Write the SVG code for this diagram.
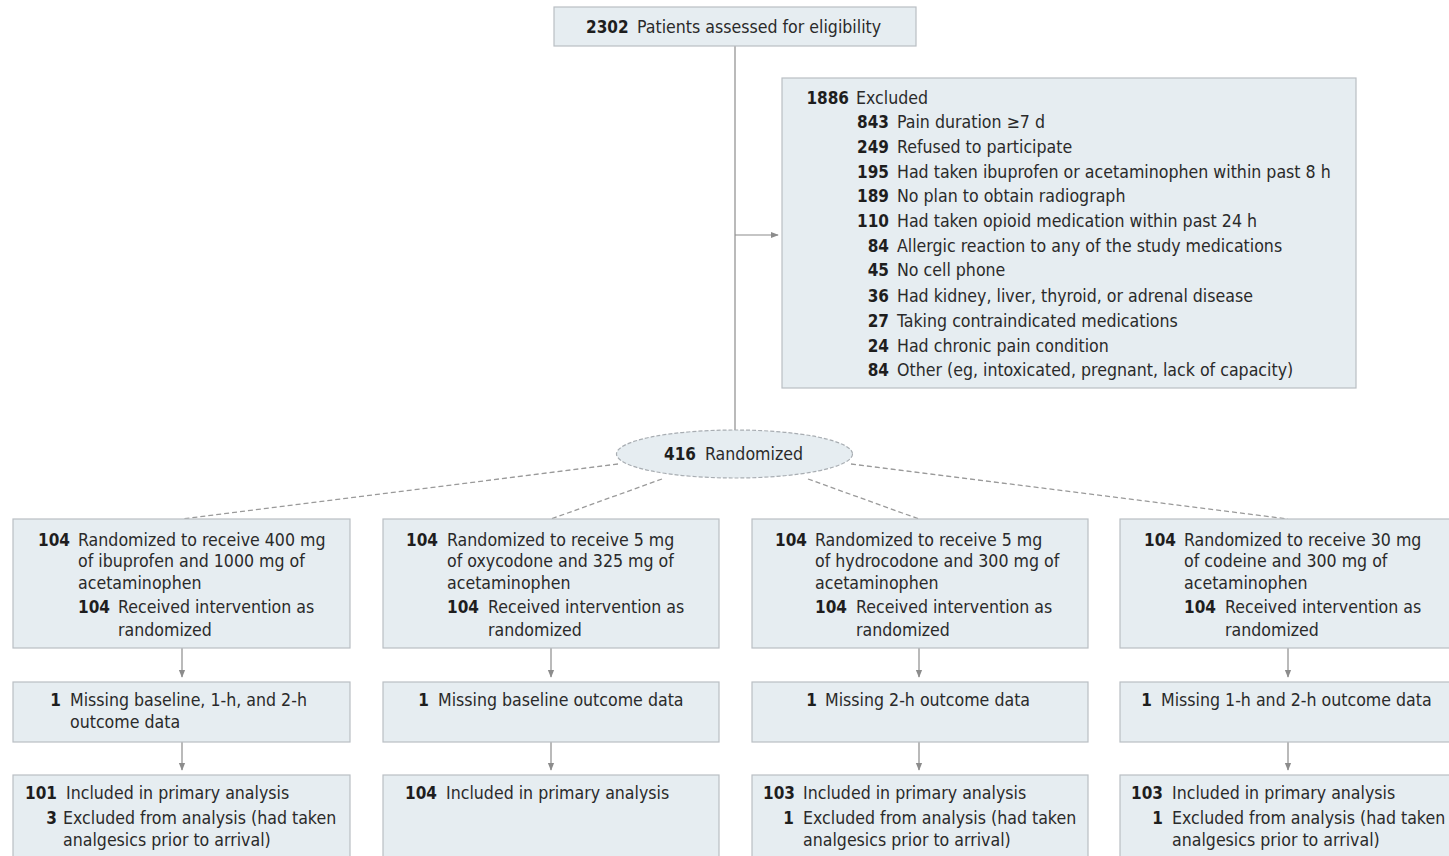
<svg xmlns="http://www.w3.org/2000/svg" width="1449" height="856" viewBox="0 0 1449 856">
<defs>
<style>
.box{fill:#e6edf1;stroke:#b9bfc4;stroke-width:1.2}
.t{font-family:"DejaVu Sans Condensed","DejaVu Sans",sans-serif;font-size:17.6px;fill:#2a2a2a}
.b{font-weight:bold;fill:#1e1e1e;font-size:17px}
.ln{stroke:#8c8c8c;stroke-width:1.2;fill:none}
.dl{stroke:#9a9a9a;stroke-width:1.3;fill:none;stroke-dasharray:5 3}
</style>
<marker id="ah" viewBox="0 0 10 10" refX="9" refY="5" markerWidth="8" markerHeight="8" orient="auto" markerUnits="userSpaceOnUse">
<path d="M0,1 L10,5 L0,9 Z" fill="#8c8c8c"/>
</marker>
</defs>
<rect width="1449" height="856" fill="#ffffff"/>

<g id="connectors">
<line class="ln" x1="735" y1="46" x2="735" y2="431"/>
<line class="ln" x1="735" y1="235" x2="778" y2="235" marker-end="url(#ah)"/>
<line class="dl" x1="618" y1="464" x2="182" y2="519"/>
<line class="dl" x1="662" y1="479" x2="551" y2="519"/>
<line class="dl" x1="808" y1="479" x2="919" y2="519"/>
<line class="dl" x1="851" y1="464" x2="1288" y2="519"/>
<line class="ln" x1="182" y1="648" x2="182" y2="677" marker-end="url(#ah)"/>
<line class="ln" x1="551" y1="648" x2="551" y2="677" marker-end="url(#ah)"/>
<line class="ln" x1="919" y1="648" x2="919" y2="677" marker-end="url(#ah)"/>
<line class="ln" x1="1288" y1="648" x2="1288" y2="677" marker-end="url(#ah)"/>
<line class="ln" x1="182" y1="742" x2="182" y2="770" marker-end="url(#ah)"/>
<line class="ln" x1="551" y1="742" x2="551" y2="770" marker-end="url(#ah)"/>
<line class="ln" x1="919" y1="742" x2="919" y2="770" marker-end="url(#ah)"/>
<line class="ln" x1="1288" y1="742" x2="1288" y2="770" marker-end="url(#ah)"/>
</g>

<g id="assessed">
<rect class="box" x="554" y="7" width="362" height="39"/>
<text class="t b" x="586" y="33">2302</text>
<text class="t" x="637" y="33">Patients assessed for eligibility</text>
</g>

<g id="excluded">
<rect class="box" x="782" y="78" width="574" height="310"/>
<text class="t b" x="849" y="104" text-anchor="end">1886</text>
<text class="t" x="856" y="104">Excluded</text>
<g class="t b" text-anchor="end">
<text x="889" y="128">843</text>
<text x="889" y="153">249</text>
<text x="889" y="178">195</text>
<text x="889" y="202">189</text>
<text x="889" y="227">110</text>
<text x="889" y="252">84</text>
<text x="889" y="276">45</text>
<text x="889" y="302">36</text>
<text x="889" y="327">27</text>
<text x="889" y="352">24</text>
<text x="889" y="376">84</text>
</g>
<g class="t">
<text x="897" y="128">Pain duration ≥7 d</text>
<text x="897" y="153">Refused to participate</text>
<text x="897" y="178">Had taken ibuprofen or acetaminophen within past 8 h</text>
<text x="897" y="202">No plan to obtain radiograph</text>
<text x="897" y="227">Had taken opioid medication within past 24 h</text>
<text x="897" y="252">Allergic reaction to any of the study medications</text>
<text x="897" y="276">No cell phone</text>
<text x="897" y="302">Had kidney, liver, thyroid, or adrenal disease</text>
<text x="897" y="327">Taking contraindicated medications</text>
<text x="897" y="352">Had chronic pain condition</text>
<text x="897" y="376">Other (eg, intoxicated, pregnant, lack of capacity)</text>
</g>
</g>

<g id="randomized">
<ellipse cx="734.5" cy="454" rx="118" ry="24" fill="#e6edf1" stroke="#a8adb2" stroke-width="1.2" stroke-dasharray="4 2"/>
<text class="t b" x="664" y="460">416</text>
<text class="t" x="705" y="460">Randomized</text>
</g>

<g id="arm1">
<rect class="box" x="13" y="519" width="337" height="129"/>
<text class="t b" x="70" y="546" text-anchor="end">104</text>
<text class="t" x="78" y="546">Randomized to receive 400 mg</text>
<text class="t" x="78" y="567">of ibuprofen and 1000 mg of</text>
<text class="t" x="78" y="589">acetaminophen</text>
<text class="t b" x="110" y="613" text-anchor="end">104</text>
<text class="t" x="118" y="613">Received intervention as</text>
<text class="t" x="118" y="636">randomized</text>
</g>
<g id="arm2">
<rect class="box" x="383" y="519" width="336" height="129"/>
<text class="t b" x="438" y="546" text-anchor="end">104</text>
<text class="t" x="447" y="546">Randomized to receive 5 mg</text>
<text class="t" x="447" y="567">of oxycodone and 325 mg of</text>
<text class="t" x="447" y="589">acetaminophen</text>
<text class="t b" x="479" y="613" text-anchor="end">104</text>
<text class="t" x="488" y="613">Received intervention as</text>
<text class="t" x="488" y="636">randomized</text>
</g>
<g id="arm3">
<rect class="box" x="752" y="519" width="336" height="129"/>
<text class="t b" x="807" y="546" text-anchor="end">104</text>
<text class="t" x="815" y="546">Randomized to receive 5 mg</text>
<text class="t" x="815" y="567">of hydrocodone and 300 mg of</text>
<text class="t" x="815" y="589">acetaminophen</text>
<text class="t b" x="847" y="613" text-anchor="end">104</text>
<text class="t" x="856" y="613">Received intervention as</text>
<text class="t" x="856" y="636">randomized</text>
</g>
<g id="arm4">
<rect class="box" x="1120" y="519" width="340" height="129"/>
<text class="t b" x="1176" y="546" text-anchor="end">104</text>
<text class="t" x="1184" y="546">Randomized to receive 30 mg</text>
<text class="t" x="1184" y="567">of codeine and 300 mg of</text>
<text class="t" x="1184" y="589">acetaminophen</text>
<text class="t b" x="1216" y="613" text-anchor="end">104</text>
<text class="t" x="1225" y="613">Received intervention as</text>
<text class="t" x="1225" y="636">randomized</text>
</g>

<g id="missing1">
<rect class="box" x="13" y="682" width="337" height="60"/>
<text class="t b" x="61" y="706" text-anchor="end">1</text>
<text class="t" x="70" y="706">Missing baseline, 1-h, and 2-h</text>
<text class="t" x="70" y="728">outcome data</text>
</g>
<g id="missing2">
<rect class="box" x="383" y="682" width="336" height="60"/>
<text class="t b" x="429" y="706" text-anchor="end">1</text>
<text class="t" x="438" y="706">Missing baseline outcome data</text>
</g>
<g id="missing3">
<rect class="box" x="752" y="682" width="336" height="60"/>
<text class="t b" x="817" y="706" text-anchor="end">1</text>
<text class="t" x="825" y="706">Missing 2-h outcome data</text>
</g>
<g id="missing4">
<rect class="box" x="1120" y="682" width="340" height="60"/>
<text class="t b" x="1152" y="706" text-anchor="end">1</text>
<text class="t" x="1161" y="706">Missing 1-h and 2-h outcome data</text>
</g>

<g id="analysis1">
<rect class="box" x="13" y="775" width="337" height="100"/>
<text class="t b" x="57" y="799" text-anchor="end">101</text>
<text class="t" x="66" y="799">Included in primary analysis</text>
<text class="t b" x="57" y="824" text-anchor="end">3</text>
<text class="t" x="63" y="824">Excluded from analysis (had taken</text>
<text class="t" x="63" y="846">analgesics prior to arrival)</text>
</g>
<g id="analysis2">
<rect class="box" x="383" y="775" width="336" height="100"/>
<text class="t b" x="437" y="799" text-anchor="end">104</text>
<text class="t" x="446" y="799">Included in primary analysis</text>
</g>
<g id="analysis3">
<rect class="box" x="752" y="775" width="336" height="100"/>
<text class="t b" x="795" y="799" text-anchor="end">103</text>
<text class="t" x="803" y="799">Included in primary analysis</text>
<text class="t b" x="794" y="824" text-anchor="end">1</text>
<text class="t" x="803" y="824">Excluded from analysis (had taken</text>
<text class="t" x="803" y="846">analgesics prior to arrival)</text>
</g>
<g id="analysis4">
<rect class="box" x="1120" y="775" width="340" height="100"/>
<text class="t b" x="1163" y="799" text-anchor="end">103</text>
<text class="t" x="1172" y="799">Included in primary analysis</text>
<text class="t b" x="1163" y="824" text-anchor="end">1</text>
<text class="t" x="1172" y="824">Excluded from analysis (had taken</text>
<text class="t" x="1172" y="846">analgesics prior to arrival)</text>
</g>
</svg>
